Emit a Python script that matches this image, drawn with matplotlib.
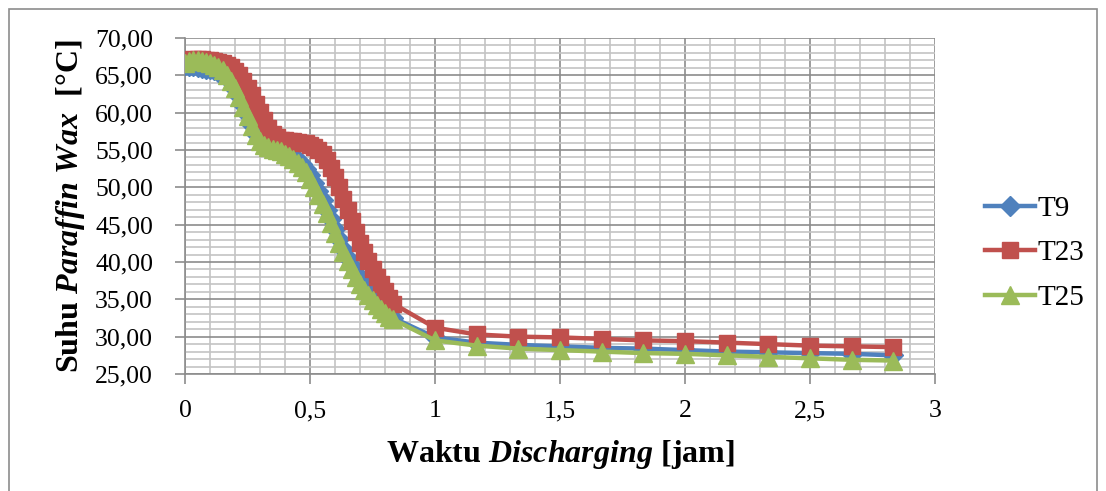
import matplotlib.pyplot as plt
from matplotlib.patches import Rectangle
from matplotlib.ticker import MultipleLocator, FuncFormatter

plt.rcParams['font.family'] = ['Liberation Serif', 'DejaVu Serif']
plt.rcParams['mathtext.fontset'] = 'custom'
plt.rcParams['mathtext.rm'] = 'Liberation Serif:bold'
plt.rcParams['mathtext.it'] = 'Liberation Serif:italic:bold'
plt.rcParams['mathtext.bf'] = 'Liberation Serif:bold'

# discharging time in minutes (every minute first, then every 10 minutes)
minutes = [0, 1, 2, 3, 4, 5, 6, 7, 8, 9,
           10, 11, 12, 13, 14, 15, 16, 17, 18, 19,
           20, 21, 22, 23, 24, 25, 26, 27, 28, 29,
           30, 31, 32, 33, 34, 35, 36, 37, 38, 39,
           40, 41, 42, 43, 44, 45, 46, 47, 48, 49, 50,
           60, 70, 80, 90, 100, 110, 120, 130, 140, 150, 160, 170]

t9 = [66.4, 66.3, 66.2, 66.1, 66.0, 65.9, 65.8, 65.7, 65.5, 65.2,
      64.8, 64.1, 63.2, 62.2, 61.0, 59.7, 58.4, 57.2, 56.4, 55.9,
      55.6, 55.4, 55.2, 55.0, 54.8, 54.5, 54.1, 53.7, 53.1, 52.4,
      51.6, 50.6, 49.5, 48.3, 47.0, 45.7, 44.4, 43.1, 41.8, 40.6,
      39.5, 38.5, 37.6, 36.8, 36.0, 35.3, 34.7, 34.1, 33.5, 33.0, 32.5,
      29.9, 29.2, 28.9, 28.7, 28.5, 28.4, 28.2, 28.0, 27.9, 27.8, 27.7, 27.5]

t23 = [66.8, 67.1, 67.2, 67.2, 67.2, 67.1, 67.0, 66.9, 66.8, 66.6,
       66.4, 66.1, 65.6, 65.0, 64.2, 63.3, 62.3, 61.2, 60.1, 59.0,
       58.0, 57.2, 56.7, 56.4, 56.3, 56.2, 56.2, 56.1, 56.0, 55.9,
       55.7, 55.4, 55.0, 54.4, 53.6, 52.6, 51.4, 50.0, 48.5, 47.0,
       45.5, 44.0, 42.6, 41.3, 40.1, 39.0, 38.0, 37.0, 36.1, 35.2, 34.4,
       31.2, 30.3, 30.0, 29.9, 29.7, 29.5, 29.4, 29.2, 29.0, 28.8, 28.7, 28.6]

t25 = [66.6, 66.9, 67.0, 67.0, 66.9, 66.8, 66.6, 66.4, 66.1, 65.7,
       65.1, 64.3, 63.3, 62.1, 60.8, 59.5, 58.2, 57.0, 56.2, 55.7,
       55.4, 55.2, 55.0, 54.8, 54.5, 54.2, 53.8, 53.3, 52.7, 52.0,
       51.1, 50.1, 49.0, 47.8, 46.5, 45.2, 43.9, 42.6, 41.3, 40.1,
       39.0, 38.0, 37.1, 36.3, 35.6, 34.9, 34.3, 33.7, 33.2, 32.7, 32.3,
       29.5, 28.8, 28.4, 28.2, 28.0, 27.8, 27.7, 27.5, 27.3, 27.1, 26.9, 26.8]

hours = [m / 60 for m in minutes]

fig = plt.figure(figsize=(11.06, 4.91), dpi=100)
ax = fig.add_axes([0.1673, 0.2383, 0.8454 - 0.1673, 0.9226 - 0.2383])

# outer chart frame
fig.patches.append(Rectangle((9 / 1106, -0.05), 1088 / 1106, 1.05 - 9 / 491,
                             transform=fig.transFigure, fill=False,
                             edgecolor='#8c8c8c', linewidth=1.2))

ax.plot(hours, t9, color='#4F81BD', marker='D', markersize=10, lw=3.2,
        label='T9', zorder=3)
ax.plot(hours, t23, color='#C0504D', marker='s', markersize=12, lw=3.2,
        label='T23', zorder=4)
ax.plot(hours, t25, color='#9BBB59', marker='^', markersize=13, lw=3.2,
        label='T25', zorder=5)

ax.set_xlim(0, 3)
ax.set_ylim(25, 70)
ax.xaxis.set_major_locator(MultipleLocator(0.5))
ax.xaxis.set_minor_locator(MultipleLocator(0.1))
ax.yaxis.set_major_locator(MultipleLocator(5))
ax.yaxis.set_minor_locator(MultipleLocator(1))
ax.grid(which='major', color='#8c8c8c', linewidth=1.2)
ax.grid(which='minor', color='#c4c4c4', linewidth=1.2)
ax.set_axisbelow(True)

ax.xaxis.set_major_formatter(FuncFormatter(lambda v, p: f'{v:g}'.replace('.', ',')))
ax.yaxis.set_major_formatter(FuncFormatter(lambda v, p: f'{v:.2f}'.replace('.', ',')))
ax.tick_params(which='major', labelsize=18.5, color='#8c8c8c', length=7, width=1.2)
ax.tick_params(which='minor', length=0)
ax.tick_params(axis='x', pad=12)
ax.tick_params(axis='y', pad=16)

for side in ['top', 'right']:
    ax.spines[side].set_visible(False)
for side in ['left', 'bottom']:
    ax.spines[side].set_color('#8c8c8c')
    ax.spines[side].set_linewidth(1.2)

ax.set_xlabel(r'$\mathrm{Waktu}\ \mathit{Discharging}\ \mathrm{[jam]}$',
              fontsize=23, labelpad=11)
ax.set_ylabel(r'$\mathrm{Suhu}\ \mathit{Paraffin\ Wax}\ \ \mathrm{[°C]}$',
              fontsize=23, labelpad=6)

ax.legend(loc='center left', bbox_to_anchor=(1.067, 0.36), frameon=False,
          fontsize=21, handlelength=1.72, handletextpad=0.08,
          labelspacing=0.62, borderpad=0, borderaxespad=0)

fig.savefig('out.png', dpi=100)
